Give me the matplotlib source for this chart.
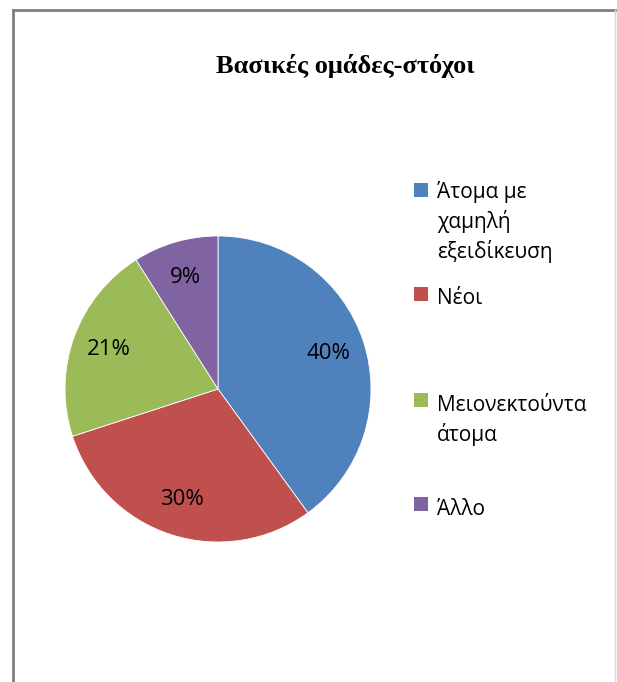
import matplotlib
matplotlib.use("Agg")
import matplotlib.pyplot as plt
from matplotlib.patches import Rectangle
from matplotlib.lines import Line2D

title = "Βασικές ομάδες-στόχοι"
categories = ["Άτομα με\nχαμηλή\nεξειδίκευση", "Νέοι", "Μειονεκτούντα\nάτομα", "Άλλο"]
values = [40, 30, 21, 9]
colors = ["#4F81BD", "#C0504D", "#9BBB59", "#8064A2"]

W, H = 617, 682
fig = plt.figure(figsize=(W / 100, H / 100), dpi=100)
fig.patch.set_facecolor("white")

def fx(px):
    return px / W

def fy(py):
    return 1 - py / H

# border
fig.add_artist(Line2D([fx(13), fx(13)], [fy(10), fy(690)], color="#7f7f7f", lw=2.0))
fig.add_artist(Line2D([fx(13), fx(615)], [fy(10), fy(10)], color="#7f7f7f", lw=2.0))
fig.add_artist(Line2D([fx(614.5), fx(614.5)], [fy(10), fy(690)], color="#d9d9d9", lw=1.0))

# title
fig.text(fx(345), fy(66), title, ha="center", va="center",
         fontsize=19, fontweight="bold", family="Liberation Serif")

# pie
cx, cy, r = 218, 389, 153
ax = fig.add_axes([fx(cx - r), fy(cy + r), 2 * r / W, 2 * r / H])
wedges, texts, autotexts = ax.pie(
    values, colors=colors, startangle=90, counterclock=False,
    autopct="%1.0f%%", pctdistance=0.76,
    wedgeprops=dict(edgecolor="white", linewidth=0.6))
for t in autotexts:
    t.set_fontsize(16)
    t.set_family("Open Sans")
    t.set_color("black")
ax.set_xlim(-1, 1)
ax.set_ylim(-1, 1)
ax.axis("off")

# legend (manual layout)
baselines = [198, 304, 411, 515]
squares = [183, 287, 393, 497]
line_gap = 30
for lab, col, yb, ys in zip(categories, colors, baselines, squares):
    fig.add_artist(Rectangle((fx(414), fy(ys + 14)), 14 / W, 14 / H,
                             facecolor=col, edgecolor="none", transform=fig.transFigure))
    for i, line in enumerate(lab.split("\n")):
        fig.text(fx(437), fy(yb + i * line_gap), line, ha="left", va="baseline",
                 fontsize=15, family="Open Sans")

fig.savefig("out.png", dpi=100, facecolor="white")
